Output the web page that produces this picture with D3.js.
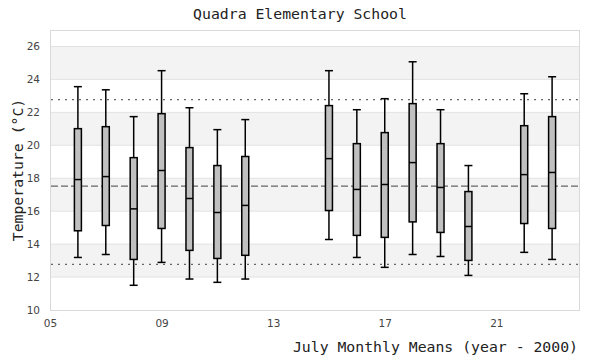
<!DOCTYPE html>
<html><head><meta charset="utf-8">
<script src="https://cdn.jsdelivr.net/npm/d3@7"></script>
<style>body{margin:0;background:#fff}svg{display:block}</style>
</head><body>
<svg id="chart" width="600" height="360"></svg>
<script>
const title = "Quadra Elementary School";
const xLabel = "July Monthly Means (year - 2000)";
const yLabel = "Temperature (°C)";
const years = [6,7,8,9,10,11,12,15,16,17,18,19,20,22,23];
const whiskerLow  = [13.19,13.37,11.50,12.89,11.88,11.68,11.88,14.28,13.19,12.59,13.37,13.25,12.10,13.50,13.07];
const q1          = [14.81,15.13,13.07,14.95,13.62,13.13,13.32,16.04,14.53,14.41,15.35,14.71,13.01,15.25,14.95];
const median      = [17.92,18.10,16.14,18.47,16.77,15.92,16.35,19.19,17.32,17.62,18.95,17.44,15.07,18.22,18.35];
const q3          = [21.01,21.13,19.25,21.92,19.86,18.77,19.32,22.41,20.10,20.77,22.53,20.10,17.19,21.19,21.74];
const whiskerHigh = [23.56,23.37,21.74,24.53,22.28,20.95,21.56,24.53,22.16,22.83,25.07,22.16,18.77,23.13,24.16];
const xTicks = [5,9,13,17,21];
const yTicks = [10,12,14,16,18,20,22,24,26];
const meanLine = 17.52;
const boundLines = [22.77, 12.77];

const svg = d3.select("#chart");
const L = 50, R = 580, T = 30, B = 310;
const x = d3.scaleLinear().domain([5,24]).range([L,R]);
const y = d3.scaleLinear().domain([10,27]).range([B,T]);

// alternating bands
const bands = [[24,26],[20,22],[16,18],[12,14]];
svg.append("g").selectAll("rect").data(bands).join("rect")
  .attr("x", L).attr("width", R-L)
  .attr("y", d=>y(d[1])).attr("height", d=>y(d[0])-y(d[1]))
  .attr("fill","#f3f3f3");

// grid lines
svg.append("g").selectAll("line").data(yTicks.filter(v=>v>10)).join("line")
  .attr("x1",L).attr("x2",R).attr("y1",d=>y(d)).attr("y2",d=>y(d))
  .attr("stroke","#e2e2e2").attr("stroke-width",1);

// border
svg.append("rect").attr("x",L+0.5).attr("y",T+0.5).attr("width",R-L-1).attr("height",B-T)
  .attr("fill","none").attr("stroke","#d9d9d9").attr("stroke-width",1);

// axes (labels only)
const yAxis = d3.axisLeft(y).tickValues(yTicks).tickSize(0).tickPadding(10).tickFormat(d3.format("d"));
const gy = svg.append("g").attr("transform",`translate(${L},0)`).call(yAxis);
const xAxis = d3.axisBottom(x).tickValues(xTicks).tickSize(0).tickPadding(10).tickFormat(d3.format("02d"));
const gx = svg.append("g").attr("transform",`translate(0,${B})`).call(xAxis);
[gx,gy].forEach(g=>{
  g.select(".domain").remove();
  g.selectAll("text").attr("fill","#444").style("font-family","DejaVu Sans, sans-serif").style("font-size","10.5px");
});

// reference lines
svg.append("line").attr("x1",L+1).attr("x2",R-1).attr("y1",y(meanLine)).attr("y2",y(meanLine))
  .attr("stroke","#666").attr("stroke-width",1.3).attr("stroke-dasharray","7,3");
svg.append("g").selectAll("line").data(boundLines).join("line")
  .attr("x1",L+1).attr("x2",R-1).attr("y1",d=>y(d)).attr("y2",d=>y(d))
  .attr("stroke","#666").attr("stroke-width",1.3).attr("stroke-dasharray","2,5");

// boxes
const data = years.map((yr,i)=>({yr, lo:whiskerLow[i], q1:q1[i], md:median[i], q3:q3[i], hi:whiskerHigh[i]}));
const bw = 7, cw = 8;
const g = svg.append("g").selectAll("g").data(data).join("g");
g.append("line").attr("x1",d=>x(d.yr)).attr("x2",d=>x(d.yr)).attr("y1",d=>y(d.lo)).attr("y2",d=>y(d.hi))
  .attr("stroke","#000").attr("stroke-width",1.5);
g.append("line").attr("x1",d=>x(d.yr)-cw/2).attr("x2",d=>x(d.yr)+cw/2).attr("y1",d=>y(d.hi)).attr("y2",d=>y(d.hi))
  .attr("stroke","#000").attr("stroke-width",1.5);
g.append("line").attr("x1",d=>x(d.yr)-cw/2).attr("x2",d=>x(d.yr)+cw/2).attr("y1",d=>y(d.lo)).attr("y2",d=>y(d.lo))
  .attr("stroke","#000").attr("stroke-width",1.5);
g.append("rect").attr("x",d=>x(d.yr)-bw/2).attr("width",bw)
  .attr("y",d=>y(d.q3)).attr("height",d=>y(d.q1)-y(d.q3))
  .attr("fill","#c0c0c0").attr("stroke","#000").attr("stroke-width",1.5);
g.append("line").attr("x1",d=>x(d.yr)-bw/2).attr("x2",d=>x(d.yr)+bw/2).attr("y1",d=>y(d.md)).attr("y2",d=>y(d.md))
  .attr("stroke","#000").attr("stroke-width",1.5);

// titles
const mono = "DejaVu Sans Mono, monospace";
svg.append("text").attr("x",300).attr("y",19).attr("text-anchor","middle")
  .style("font-family",mono).style("font-size","14.8px").attr("fill","#222").text(title);
svg.append("text").attr("x",578).attr("y",352).attr("text-anchor","end")
  .style("font-family",mono).style("font-size","14.8px").attr("fill","#222").text(xLabel);
svg.append("text").attr("transform",`translate(23,${(T+B)/2}) rotate(-90)`).attr("text-anchor","middle")
  .style("font-family",mono).style("font-size","14.8px").attr("fill","#222").text(yLabel);
</script>
</body></html>
